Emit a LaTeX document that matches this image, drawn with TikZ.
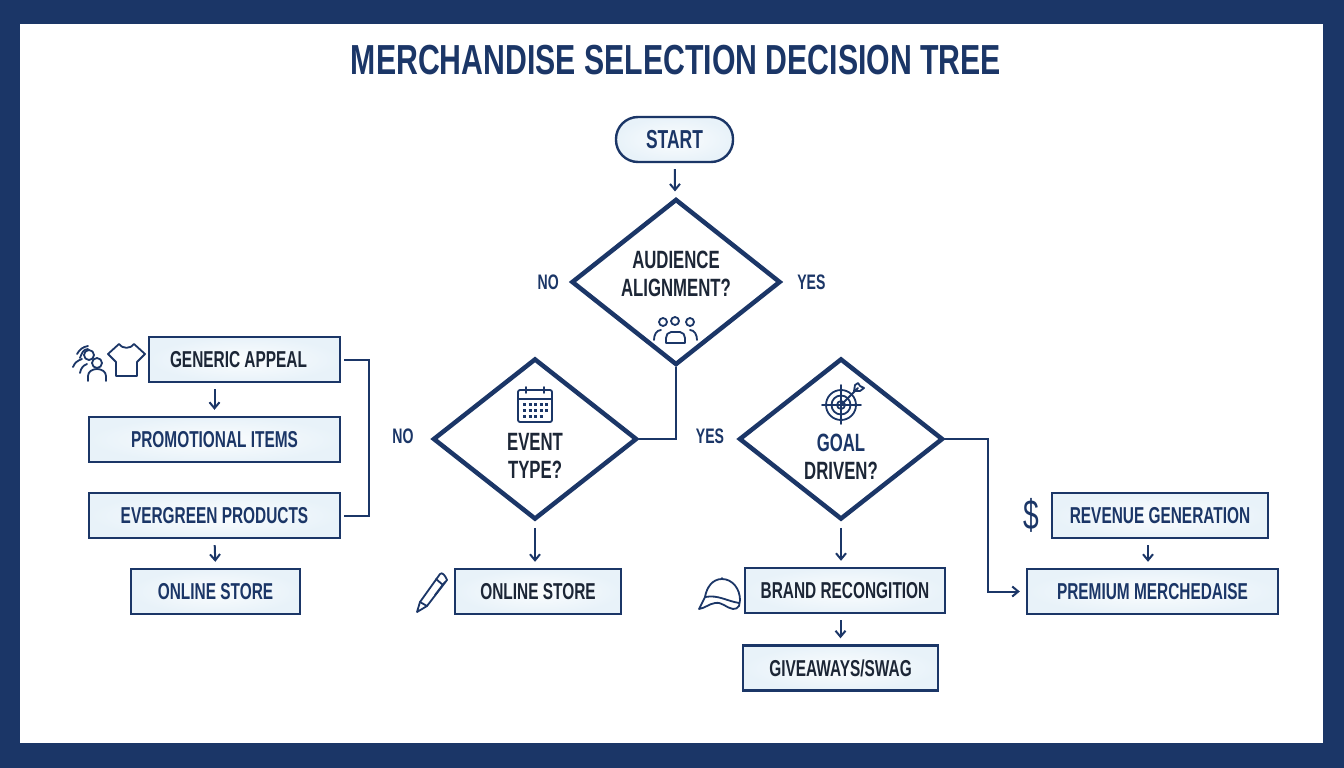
\documentclass[tikz,border=0pt]{standalone}
\usepackage{fontspec}
\setmainfont{Liberation Sans}[FakeStretch=0.67]
\newfontfamily\titlefont{Liberation Sans}[FakeStretch=0.72]
\usetikzlibrary{positioning, shapes.geometric, arrows.meta}

\definecolor{navy}{HTML}{1B3667}
\definecolor{ink}{HTML}{1C2636}
\definecolor{boxin}{HTML}{FBFDFE}
\definecolor{boxout}{HTML}{E8F2F9}

\tikzset{
    box/.style={draw=navy, line width=2.4pt, inner color=boxin, outer color=boxout, minimum height=45pt, inner sep=0pt, font=\fontsize{23}{27}\selectfont\bfseries, text=navy},
    decision/.style={diamond, draw=navy, line width=4.5pt, fill=white, inner sep=0pt},
    asktext/.style={align=center, font=\fontsize{25}{28}\selectfont\bfseries, text=ink},
    answer/.style={font=\fontsize{21}{25}\selectfont\bfseries, text=navy},
    flow/.style={draw=navy, line width=2pt},
    arrow/.style={flow, -{Straight Barb[length=6pt, width=10pt]}, shorten >=6pt, shorten <=6pt},
    icon/.style={draw=navy, line width=1.8pt, line cap=round, line join=round}
}

\begin{document}
\begin{tikzpicture}[x=1pt, y=-1pt]
    \useasboundingbox (0, 0) rectangle (1344, 768);
    \fill[navy] (0, 0) rectangle (1344, 768);
    \fill[white] (20, 24) rectangle (1323, 743);
    \node[text=navy, font=\fontsize{42}{48}\titlefont\bfseries] (title) at (676, 60) {MERCHANDISE SELECTION DECISION TREE};

    \node[box, rounded corners=22pt, minimum width=117pt, font=\fontsize{26}{30}\selectfont\bfseries] (start) at (674.5, 139.5) {START};
    \node[decision, minimum width=209pt, minimum height=166pt] (audience) at (676, 282) {};
    \node[asktext] (audiencetext) at (676, 274) {AUDIENCE\\ALIGNMENT?};
    \node[decision, minimum width=204pt, minimum height=161pt] (event) at (535, 439) {};
    \node[asktext] (eventtext) at (535, 456) {EVENT\\TYPE?};
    \node[decision, minimum width=204pt, minimum height=161pt] (goal) at (841, 439) {};
    \node[asktext] (goaltext) at (841, 457) {\textcolor{navy}{GOAL}\\DRIVEN?};

    \node[answer, left = 7pt of audience] (audienceno) {NO};
    \node[answer, right = 11pt of audience] (audienceyes) {YES};
    \node[answer] (eventno) at (403, 436) {NO};
    \node[answer] (goalyes) at (710, 436) {YES};

    \node[box, text=ink, minimum width=191pt] (generic) at (244.5, 359.5) {GENERIC APPEAL\kern12pt};
    \node[box, minimum width=251pt] (promotional) at (214.5, 439.5) {PROMOTIONAL ITEMS};
    \node[box, minimum width=251pt] (evergreen) at (214.5, 515.5) {EVERGREEN PRODUCTS};
    \node[box, minimum width=169pt] (storeleft) at (215.5, 591.5) {ONLINE STORE};
    \node[box, text=ink, minimum width=166pt] (storemid) at (538, 591.5) {ONLINE STORE};
    \node[box, text=ink, minimum width=200pt] (brand) at (845, 590.5) {BRAND RECONGITION};
    \node[box, text=ink, minimum width=195pt] (giveaways) at (840.5, 668) {GIVEAWAYS/SWAG};
    \node[box, minimum width=216pt] (revenue) at (1160, 515.5) {REVENUE GENERATION};
    \node[box, minimum width=251pt] (premium) at (1152.5, 591.5) {PREMIUM MERCHEDAISE};
    \node[text=navy, font=\fontsize{42}{48}\selectfont, left = 8pt of revenue] (dollar) {\$};

    \coordinate (leftbend) at (369, 359.5);
    \coordinate (rightbend) at (988, 439);
    \draw[arrow] (start) -- (audience);
    \draw[flow] (audience.south) |- (event.east);
    \draw[flow, shorten <=3pt, shorten >=3pt] (generic.east) -- (leftbend) |- (evergreen.east);
    \draw[flow, -{Straight Barb[length=6pt, width=10pt]}, shorten >=6pt] (goal.east) -- (rightbend) |- (premium.west);
    \draw[arrow] (promotional.north |- generic.south) -- (promotional.north);
    \draw[arrow] (evergreen.south) -- (storeleft.north);
    \draw[arrow] (event.south) -- (event.south |- storemid.north);
    \draw[arrow] (goal.south) -- (goal.south |- brand.north);
    \draw[arrow] (giveaways.north |- brand.south) -- (giveaways.north);
    \draw[arrow] ([xshift=-4.5pt]premium.north |- revenue.south) -- ([xshift=-4.5pt]premium.north);

    \draw[icon] (663, 322) circle (4) (675, 321) circle (4) (690, 322) circle (4);
    \draw[icon] (666, 343) -- (666, 338) to[out=90, in=180] (671, 332) -- (680, 332) to[out=0, in=90] (685, 338) -- (685, 343) -- cycle;
    \draw[icon] (654, 340) to[out=90, in=180] (661, 330) (697, 340) to[out=90, in=0] (690, 330);

    \draw[icon, rounded corners=2pt] (518, 390) rectangle (552, 422);
    \draw[icon] (518, 399) -- (552, 399) (526, 387) -- (526, 393) (544, 387) -- (544, 393);
    \draw[navy, line width=3pt, dash pattern=on 3pt off 2.5pt] (523, 404) -- (549, 404) (523, 410) -- (549, 410) (523, 416) -- (544, 416);

    \draw[icon] (841, 405) circle (15) (841, 405) circle (9.5) (841, 405) circle (4);
    \draw[icon] (822, 405) -- (861, 405) (841, 385) -- (841, 424);
    \draw[icon] (841, 405) -- (858, 388) (855, 385) -- (854, 391) -- (860, 391) -- (864, 388) -- (860, 386) -- (858, 383) -- cycle;

    \draw[icon] (417, 612) -- (420, 602) -- (440, 574) to[out=50, in=110] (447, 580) -- (427, 606) -- cycle;
    \draw[icon] (420, 602) -- (427, 606) (436, 579) -- (443, 585) (445, 582) -- (435, 595);

    \draw[icon] (705, 597) to[out=80, in=180] (722, 579) to[out=0, in=90] (740, 600) -- (739, 606) to[out=-120, in=0] (733, 609) to[out=170, in=10] (715, 603) to[out=190, in=10] (699, 609) -- cycle;
    \draw[icon] (705, 597) to[out=10, in=170] (739, 603) (722, 578) -- (722, 579);

    \draw[icon] (116, 376) -- (116, 362) -- (108, 354) -- (119, 344) to[out=-60, in=-120] (134, 344) -- (145, 354) -- (137, 362) -- (137, 376) -- cycle;

    \draw[icon] (97, 363) circle (5) (89, 355) circle (5);
    \draw[icon] (88, 381) -- (88, 376) to[out=90, in=180] (97, 369) to[out=0, in=90] (106, 376) -- (106, 381);
    \draw[icon] (73, 367) to[out=70, in=200] (82, 359) (80, 373) to[out=80, in=200] (87, 364);
    \draw[icon] (77, 354) to[out=60, in=190] (88, 346) (80, 358) to[out=70, in=180] (88, 349);
\end{tikzpicture}
\end{document}
